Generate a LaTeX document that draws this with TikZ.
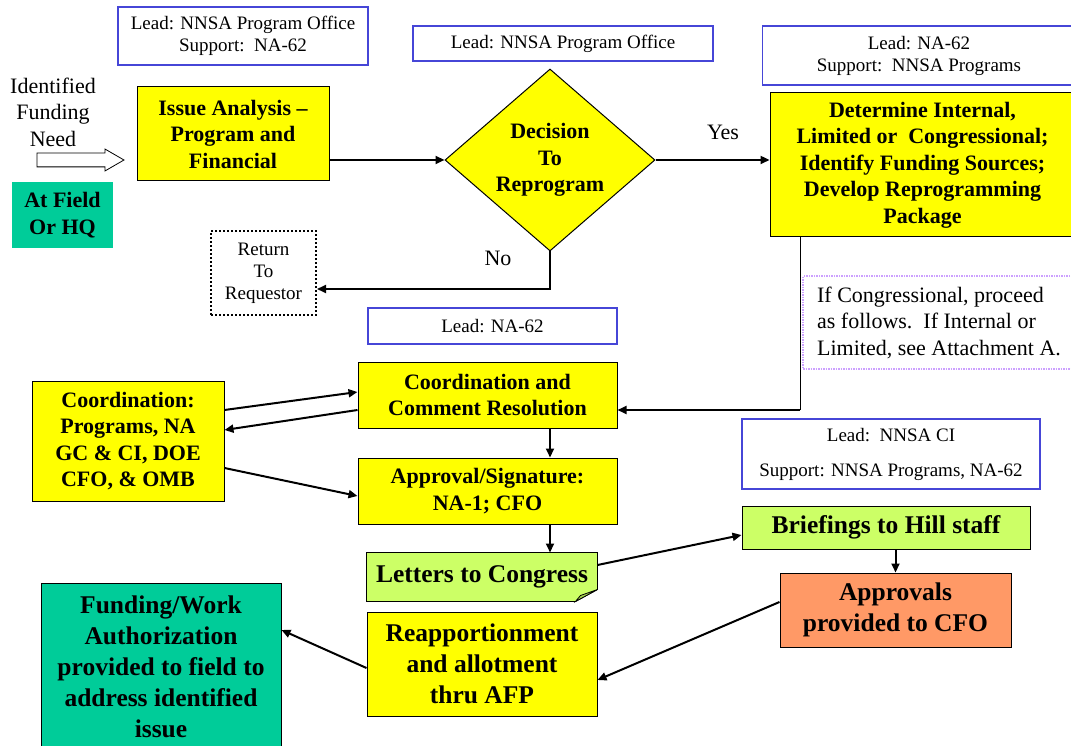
\documentclass[tikz,border=0pt]{standalone}
\usepackage{fontspec}
\setmainfont{Liberation Serif}
\usepackage{tikz}
\usetikzlibrary{arrows.meta}
\usetikzlibrary{calc}
\usetikzlibrary{shapes.geometric}
\usetikzlibrary{shapes.arrows}
\usetikzlibrary{backgrounds}
\definecolor{boxyellow}{RGB}{255,255,0}
\definecolor{fieldteal}{RGB}{0,204,153}
\definecolor{hillgreen}{RGB}{204,255,102}
\definecolor{foldgreen}{RGB}{170,215,80}
\definecolor{cfoorange}{RGB}{255,153,102}
\definecolor{leadblue}{RGB}{70,70,215}
\definecolor{noteviolet}{RGB}{204,160,255}
\newcommand{\stepfont}{\fontsize{22}{26.5}\selectfont\bfseries}
\newcommand{\bigstepfont}{\fontsize{25.5}{31}\selectfont\bfseries}
\newcommand{\leadfont}{\fontsize{19}{22}\selectfont}
\newcommand{\plainfont}{\fontsize{22}{26.5}\selectfont}
\tikzset{
	leadbox/.style={draw=leadblue,line width=1.2pt,fill=white,align=center,font=\leadfont,inner sep=0pt},
	stepbox/.style={draw=black,line width=1pt,fill=boxyellow,align=center,font=\stepfont,inner sep=0pt},
	bigstepbox/.style={stepbox,font=\bigstepfont},
	flow/.style={line width=2pt,-{Triangle[length=9pt,width=8pt]}}
}

\begin{document}
\begin{tikzpicture}[x=1pt,y=-1pt]
\useasboundingbox (0,0) rectangle (1071,746);
% who leads each stage
\node[leadbox,minimum width=250pt,minimum height=58pt] (leadissue) at (243,36) {Lead: NNSA Program Office\\Support:\ \ NA-62};
\node[leadbox,minimum width=300pt,minimum height=35pt] (leaddec) at (563,43.5) {Lead: NNSA Program Office};
\node[leadbox,minimum width=313pt,minimum height=59pt] (leaddet) at (919,55.5) {Lead: NA-62\\Support:\ \ NNSA Programs};
\node[leadbox,minimum width=249pt,minimum height=36pt] (leadcoord) at (492.5,326) {Lead: NA-62};
\node[leadbox,minimum width=298pt,minimum height=70pt] (leadhill) at (891,454) {Lead:\ \ NNSA CI\\[13pt]Support: NNSA Programs, NA-62};
% start
\node[align=center,font=\plainfont] (need) at (53,112) {Identified\\Funding\\Need};
\node[single arrow,draw=black,line width=0.8pt,fill=white,minimum height=87pt,inner sep=6.5pt,single arrow head extend=4pt,single arrow tip angle=60] (needarrow) at (74.5,160) {};
\node[stepbox,draw=none,fill=fieldteal,minimum width=101pt,minimum height=66pt] (field) at (62.5,215) {At Field\\Or HQ};
% main steps
\node[stepbox,minimum width=192pt,minimum height=94pt] (issue) at (233,134) {Issue Analysis --\\Program and\\Financial};
\node[stepbox,diamond,minimum width=210pt,minimum height=182pt] (dec) at (550,160) {Decision\\To\\Reprogram};
\node[stepbox,minimum width=305pt,minimum height=144pt] (det) at (922.5,165) {Determine Internal,\\Limited or\ \ Congressional;\\Identify Funding Sources;\\Develop Reprogramming\\Package};
\node[draw=black,dash pattern=on 2pt off 2pt,line width=2pt,align=center,font=\leadfont,inner sep=0pt,minimum width=105pt,minimum height=84pt] (ret) at (263.5,273) {Return\\To\\Requestor};
\node[draw=noteviolet,densely dotted,line width=1.5pt,align=left,font=\plainfont,inner sep=0pt,minimum width=272pt,minimum height=93pt] (note) at (939,322.5) {If Congressional, proceed\\as follows.\ \ If Internal or\\Limited, see Attachment A.};
\node[stepbox,minimum width=259pt,minimum height=66pt] (coord) at (487.5,395) {Coordination and\\Comment Resolution};
\node[stepbox,minimum width=192pt,minimum height=120pt] (coordL) at (128,441) {Coordination:\\Programs, NA\\GC \& CI, DOE\\CFO, \& OMB};
\node[stepbox,minimum width=259pt,minimum height=66pt] (appr) at (487.5,491) {Approval/Signature:\\NA-1; CFO};
\node[bigstepbox,draw=none,fill=none,minimum width=230pt,minimum height=48pt] (letters) at (482,577) {Letters to Congress};
\node[bigstepbox,fill=hillgreen,minimum width=288pt,minimum height=43pt] (hill) at (886,527.5) {Briefings to Hill staff};
\node[bigstepbox,fill=cfoorange,minimum width=231pt,minimum height=74pt] (cfo) at (895.5,610) {Approvals\\provided to CFO};
\node[bigstepbox,minimum width=230pt,minimum height=104pt] (reapp) at (482,664) {Reapportionment\\and allotment\\thru AFP};
\node[bigstepbox,fill=fieldteal,minimum width=240pt,minimum height=167pt] (fund) at (161,666.5) {Funding/Work\\Authorization\\provided to field to\\address identified\\issue};
\begin{scope}[on background layer]
	\fill[white] (0,0) rectangle (1071,746);
	\filldraw[fill=hillgreen,draw=black,line width=0.8pt] (letters.north west) -- (letters.north east) -- ($(letters.south east)+(0,-12)$) -- ($(letters.south east)+(-22,0)$) -- (letters.south west) -- cycle;
	\filldraw[fill=foldgreen,draw=black,line width=0.8pt] ($(letters.south east)+(0,-12)$) -- ($(letters.south east)+(-17,-6)$) -- ($(letters.south east)+(-22,0)$) -- cycle;
\end{scope}
% connectors
\coordinate (nolevel) at (0,289);
\coordinate (detdrop) at (800,410);
\node[font=\plainfont] (yes) at (723,132) {Yes};
\node[font=\plainfont] (no) at (498,258) {No};
\draw[flow,line width=2.5pt] (issue.east |- dec.west) -- (dec.west);
\draw[flow,line width=2.5pt] (dec.east) -- (dec.east -| det.west);
\draw[flow] (dec.south) |- (ret.east |- nolevel);
\draw[line width=1pt] (det.south -| detdrop) -- (detdrop);
\draw[flow] (detdrop) -- (coord.east |- detdrop);
\draw[flow] ($(coordL.east)+(0,-31)$) -- ($(coord.west)+(0,-3)$);
\draw[flow] ($(coord.west)+(0,15)$) -- ($(coordL.east)+(0,-11)$);
\draw[flow] ($(coordL.east)+(0,27)$) -- ($(appr.west)+(0,5)$);
\draw[flow] (coord.south -| dec.south) -- (appr.north -| dec.south);
\draw[flow] (appr.south -| dec.south) -- (letters.north -| dec.south);
\draw[flow] ($(letters.east)+(0,-12)$) -- ($(hill.west)+(0,7.5)$);
\draw[flow] (hill.south -| cfo.north) -- (cfo.north);
\draw[flow] ($(cfo.west)+(0,-8)$) -- ($(reapp.east)+(0,16)$);
\draw[flow] ($(reapp.west)+(0,4)$) -- ($(fund.east)+(0,-36.5)$);
\end{tikzpicture}
\end{document}
